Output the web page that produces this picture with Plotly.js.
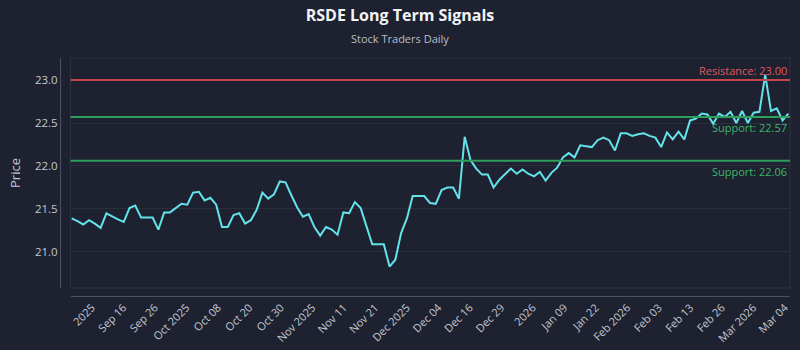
<!DOCTYPE html>
<html>
<head>
<meta charset="utf-8">
<script src="https://cdn.plot.ly/plotly-3.0.1.min.js"></script>
<style>html,body{margin:0;padding:0;background:#1e2230;}#chart{width:800px;height:350px;}</style>
</head>
<body>
<div id="chart"></div>
<script>
// ---- data ----
const prices = [
  21.39, 21.36, 21.32, 21.37, 21.33, 21.28, 21.45, 21.41, 21.38, 21.35,
  21.51, 21.54, 21.40, 21.40, 21.40, 21.26, 21.46, 21.46, 21.51, 21.56,
  21.55, 21.69, 21.70, 21.60, 21.63, 21.55, 21.29, 21.29, 21.43, 21.45,
  21.33, 21.37, 21.49, 21.69, 21.62, 21.67, 21.82, 21.81, 21.66, 21.52,
  21.41, 21.44, 21.29, 21.19, 21.29, 21.26, 21.20, 21.46, 21.45, 21.58,
  21.51, 21.29, 21.09, 21.09, 21.09, 20.83, 20.91, 21.22, 21.39, 21.65,
  21.65, 21.65, 21.57, 21.56, 21.72, 21.75, 21.75, 21.62, 22.34, 22.07,
  21.97, 21.90, 21.90, 21.75, 21.84, 21.91, 21.97, 21.91, 21.96, 21.91,
  21.88, 21.93, 21.83, 21.92, 21.98, 22.10, 22.15, 22.10, 22.24, 22.23,
  22.22, 22.30, 22.33, 22.30, 22.18, 22.38, 22.38, 22.35, 22.37, 22.38,
  22.35, 22.33, 22.22, 22.39, 22.31, 22.40, 22.31, 22.53, 22.55, 22.61,
  22.60, 22.49, 22.61, 22.57, 22.63, 22.50, 22.64, 22.50, 22.62, 22.63,
  23.06, 22.64, 22.67, 22.53, 22.61
];
const startDate = '2025-09-04';
const holidays = ['2025-11-27', '2025-12-25', '2026-01-01', '2026-01-19', '2026-02-16'];
const tickLabels = ['2025', 'Sep 16', 'Sep 26', 'Oct 2025', 'Oct 08', 'Oct 20', 'Oct 30',
  'Nov 2025', 'Nov 11', 'Nov 21', 'Dec 2025', 'Dec 04', 'Dec 16', 'Dec 29', '2026',
  'Jan 09', 'Jan 22', 'Feb 2026', 'Feb 03', 'Feb 13', 'Feb 26', 'Mar 2026', 'Mar 04'];
const levelNames = ['Resistance', 'Support', 'Support'];
const levelValues = [23.00, 22.57, 22.06];

// ---- trading-day categories ----
const dates = [];
{
  const d = new Date(startDate + 'T00:00:00Z');
  while (dates.length < prices.length) {
    const s = d.toISOString().slice(0, 10);
    const wd = d.getUTCDay();
    if (wd !== 0 && wd !== 6 && holidays.indexOf(s) < 0) dates.push(s);
    d.setUTCDate(d.getUTCDate() + 1);
  }
}

// ---- styling ----
const BG = '#1e2230';
const TXT = '#c3c8d2';
const LINE = '#63e2e9';
const RED_LINE = '#c4454e';
const RED_TXT = '#de5a60';
const GRN_LINE = '#2e9f5c';
const GRN_TXT = '#3cb56a';

const firstTick = 3.5, tickStep = 5.45;
const tickVals = tickLabels.map((_, i) => firstTick + i * tickStep);

const shapes = [{
  type: 'rect', xref: 'x domain', yref: 'y domain', x0: 0, x1: 1, y0: 0, y1: 1,
  line: {color: '#2c3242', width: 1}, layer: 'below'
}];
const annotations = [{
  text: 'Stock Traders Daily', xref: 'paper', yref: 'paper', x: 340 / 730, y: 258 / 238,
  xanchor: 'center', yanchor: 'middle', showarrow: false,
  font: {size: 11, color: '#b9bec9'}
}];
levelValues.forEach((v, i) => {
  const isRes = levelNames[i] === 'Resistance';
  shapes.push({
    type: 'line', xref: 'x domain', yref: 'y', x0: 0, x1: 1, y0: v, y1: v,
    line: {color: isRes ? RED_LINE : GRN_LINE, width: 2}
  });
  annotations.push({
    text: levelNames[i] + ': ' + v.toFixed(2), xref: 'x domain', yref: 'y',
    x: 1, y: v, xanchor: 'right', yanchor: isRes ? 'bottom' : 'top',
    xshift: -1, yshift: isRes ? 0 : -1, showarrow: false,
    font: {size: 11, color: isRes ? RED_TXT : GRN_TXT}
  });
});

const trace = {
  type: 'scatter', mode: 'lines', x: dates, y: prices,
  line: {color: LINE, width: 2}, hoverinfo: 'x+y'
};

const layout = {
  width: 800, height: 350,
  paper_bgcolor: BG, plot_bgcolor: BG,
  font: {family: '"Open Sans", "DejaVu Sans", sans-serif', color: TXT, size: 11},
  margin: {l: 60, r: 10, t: 58, b: 54, pad: 0},
  showlegend: false,
  title: {
    text: '<b>RSDE Long Term Signals</b>', xref: 'container', x: 0.5, y: 1 - 15 / 350,
    xanchor: 'center', yanchor: 'middle', font: {size: 16, color: '#f2f3f5'}
  },
  xaxis: {
    type: 'category', domain: [10.5 / 730, 1], anchor: 'free', position: 0,
    range: [-0.21, 124.29], showgrid: false, zeroline: false,
    showline: true, linecolor: '#4b5162', linewidth: 1,
    tickmode: 'array', tickvals: tickVals, ticktext: tickLabels,
    tickangle: -45, ticks: '', tickfont: {size: 11, color: TXT}
  },
  yaxis: {
    domain: [8 / 238, 1], anchor: 'free', position: 0,
    range: [20.581, 23.256], dtick: 0.5, tick0: 21, tickformat: '.1f',
    showgrid: true, gridcolor: '#2a2f3e', gridwidth: 1, zeroline: false,
    showline: true, linecolor: '#4b5162', linewidth: 1, ticks: '',
    tickfont: {size: 11.5, color: TXT},
    title: {text: 'Price', font: {size: 13, color: TXT}, standoff: 10}
  },
  shapes: shapes,
  annotations: annotations
};

Plotly.newPlot('chart', [trace], layout, {displayModeBar: false, staticPlot: true});
</script>
</body>
</html>
